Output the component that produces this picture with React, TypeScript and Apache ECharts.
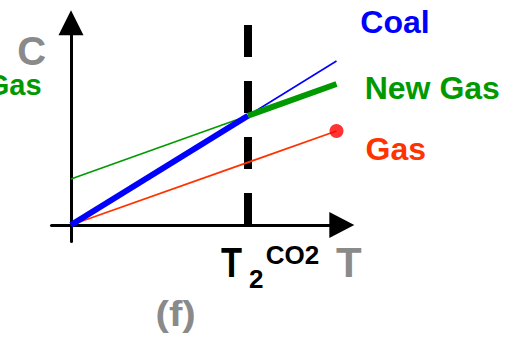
import React, { useEffect, useRef } from "react";
import * as echarts from "echarts";

// Cost C against carbon price T for three generation technologies.
// Values are in relative units; T2 marks the CO2 price where new gas
// overtakes coal.
const coalLowT = [0, 1];
const coalLowC = [0, 1];
const coalHighT = [1, 1.5];
const coalHighC = [1, 1.5];

const newGasLowT = [0, 1];
const newGasLowC = [0.42, 1.0];
const newGasHighT = [1, 1.5];
const newGasHighC = [1.0, 1.29];

const gasT = [0, 1.5];
const gasC = [0, 0.86];

const thresholdT = [1, 1];
const thresholdC = [1.83, 0];

const seriesNames = ["Coal", "New Gas", "Gas"];

const BLUE = "#0000ff";
const GREEN = "#009900";
const RED_LINE = "#ff3300";
const RED_DOT = "#ff0000";
const GREY = "#8a8a8a";
const FONT = "'Liberation Sans', Arial, Helvetica, sans-serif";

const zip = (xs: number[], ys: number[]) => xs.map((x, i) => [x, ys[i]]);

export default function App() {
  const ref = useRef<HTMLDivElement>(null);

  useEffect(() => {
    if (!ref.current) return;
    const chart = echarts.init(ref.current, undefined, { renderer: "svg" });

    const thin = (name: string, color: string, data: number[][], width: number, z: number) => ({
      name,
      type: "line",
      data,
      symbol: "none",
      z,
      lineStyle: { color, width, cap: "butt" },
      itemStyle: { color },
    });

    const txt = (
      text: string,
      x: number,
      y: number,
      fontSize: number,
      fill: string,
      align = "left",
      extra: Record<string, unknown> = {}
    ) => ({
      type: "text",
      x,
      y,
      ...extra,
      style: {
        text,
        fill,
        fontSize,
        fontWeight: "bold",
        fontFamily: FONT,
        align,
        verticalAlign: "middle",
      },
    });

    chart.setOption({
      animation: false,
      backgroundColor: "#ffffff",
      grid: {
        left: 51.5,
        top: 22.8,
        width: 290.3,
        height: 218.6,
        outerBoundsMode: "none",
      },
      xAxis: {
        type: "value",
        min: -0.11,
        max: 1.53,
        axisLine: {
          onZero: true,
          symbol: ["none", "triangle"],
          symbolSize: [26, 25],
          lineStyle: { color: "#000", width: 3 },
        },
        axisTick: { show: false },
        axisLabel: { show: false },
        splitLine: { show: false },
      },
      yAxis: {
        type: "value",
        min: -0.15,
        max: 1.85,
        axisLine: {
          show: true,
          onZero: true,
          symbol: ["none", "triangle"],
          symbolSize: [25, 25],
          lineStyle: { color: "#000", width: 3 },
        },
        axisTick: { show: false },
        axisLabel: { show: false },
        splitLine: { show: false },
      },
      series: [
        {
          name: "T2",
          type: "line",
          data: zip(thresholdT, thresholdC),
          symbol: "none",
          z: 1,
          lineStyle: { color: "#000", width: 8, type: [32, 24], cap: "butt" },
        },
        thin(seriesNames[2], RED_LINE, zip(gasT, gasC), 1.8, 2),
        thin(seriesNames[1], GREEN, zip(newGasLowT, newGasLowC), 1.6, 3),
        thin(seriesNames[0], BLUE, zip(coalHighT, coalHighC), 1.6, 3),
        thin(seriesNames[0], BLUE, zip(coalLowT, coalLowC), 6, 4),
        thin(seriesNames[1], GREEN, zip(newGasHighT, newGasHighC), 6, 4),
        {
          name: seriesNames[2],
          type: "scatter",
          data: [[gasT[gasT.length - 1], gasC[gasC.length - 1]]],
          symbol: "circle",
          symbolSize: 14,
          z: 5,
          itemStyle: { color: RED_DOT },
        },
      ],
      graphic: [
        txt("C", 17.2, 51, 40, GREY),
        txt("Gas", 41.6, 85, 29, GREEN, "right"),
        txt(seriesNames[0], 360.3, 21.7, 32, BLUE),
        txt(seriesNames[1], 364.7, 87.5, 32, GREEN),
        txt(seriesNames[2], 365.6, 148.5, 32, RED_LINE),
        txt("T", 221, 262, 42, "#000", "left", { scaleX: 0.82 }),
        txt("2", 249, 279, 26, "#000"),
        txt("CO2", 265.7, 255.3, 26, "#000"),
        txt("T", 336, 262, 42, GREY),
        txt("(f)", 155.5, 313, 36, GREY, "left", { scaleX: 1.12 }),
      ],
    });

    return () => chart.dispose();
  }, []);

  return (
    <div
      ref={ref}
      style={{ position: "fixed", left: 0, top: 0, width: 514, height: 341, background: "#fff" }}
    />
  );
}
